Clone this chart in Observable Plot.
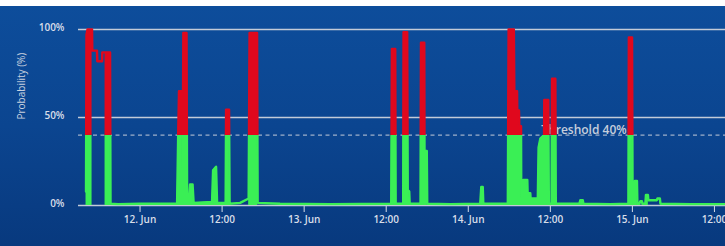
<!DOCTYPE html>
<html><head><meta charset="utf-8">
<script src="https://cdn.jsdelivr.net/npm/d3@7"></script>
<script src="https://cdn.jsdelivr.net/npm/@observablehq/plot@0.6"></script>
<style>
html,body{margin:0;padding:0;background:#fff;}
body{width:725px;height:246px;overflow:hidden;}
#top{height:6px;background:#fff;}
#chart{width:725px;height:240px;background:linear-gradient(180deg,#0d4d9b 0%,#0b4590 50%,#08397e 100%);}
#chart svg{display:block;}
</style></head><body><div id="top"></div><div id="chart"></div>
<script>
// ---- data (times are UTC, year is arbitrary) ----
const traceTimes = [
"06-11T16:06","06-11T16:10","06-11T16:19","06-11T16:59","06-11T17:01","06-11T17:42","06-11T17:45","06-11T18:27","06-11T18:29","06-11T18:53","06-11T19:37","06-11T19:41","06-11T20:47",
"06-12T00:00","06-12T03:40","06-12T05:25","06-12T05:34","06-12T05:42","06-12T06:09","06-12T06:13","06-12T06:20","06-12T06:48","06-12T06:53","06-12T07:10","06-12T07:19","06-12T07:41","06-12T07:50",
"06-12T10:32","06-12T10:41","06-12T11:07","06-12T11:16","06-12T12:31","06-12T12:35","06-12T13:01","06-12T13:06","06-12T14:38","06-12T15:53","06-12T16:01","06-12T17:07","06-12T17:12","06-12T20:29",
"06-13T03:48","06-13T12:44","06-13T12:50","06-13T13:19","06-13T13:23","06-13T14:29","06-13T14:32","06-13T15:04","06-13T15:09","06-13T15:22","06-13T15:26","06-13T17:01","06-13T17:05","06-13T17:34","06-13T17:36","06-13T17:56","06-13T18:00","06-13T21:22",
"06-14T01:45","06-14T01:54","06-14T02:07","06-14T02:12","06-14T05:47","06-14T05:54","06-14T06:40","06-14T06:44","06-14T07:08","06-14T07:10","06-14T07:25","06-14T07:28","06-14T07:43","06-14T07:45","06-14T07:59","06-14T08:03","06-14T08:38","06-14T08:41","06-14T09:04","06-14T09:07","06-14T10:10","06-14T10:17","06-14T10:32","06-14T11:05","06-14T11:07","06-14T11:42","06-14T11:47","06-14T12:11","06-14T12:15","06-14T12:44","06-14T12:48",
"06-14T16:15","06-14T16:23","06-14T16:45","06-14T16:50","06-14T20:47","06-14T23:25","06-14T23:29","06-14T23:57",
"06-15T00:02","06-15T00:18","06-15T00:22","06-15T00:40","06-15T00:44","06-15T01:01","06-15T01:10","06-15T01:23","06-15T01:28","06-15T01:54","06-15T01:59","06-15T02:16","06-15T02:20","06-15T03:35","06-15T03:40","06-15T04:01","06-15T04:06","06-15T08:29","06-15T13:37"
];
const traceValues = [
8,97,100,100,88,88,82,82,87,87,87,1,0.8,
1,1,1,37,65,65,12,98,98,3,3,12,12,1.5,
2,20,22,1.5,1.5,54.5,54.5,1,1.5,4,98,98,1.5,1,
0.8,1,89,89,1,1,98.5,98.5,9,8,1,1,92.5,92.5,31,31,1,0.8,
1,10.5,10.5,1,1,100,100,65,65,54,54,45,45,4,3,14.5,14.5,7,7,4,4,33,38,40,60,60,1,1,72,72,1,
1,3,3,1,0.8,1,95.5,95.5,
1,1,14,14,1,1,2.5,2.5,1,1,6,6,3,3,4,4,1,0.8,0.8
];
// periods where the dense readings fill the area under the trace
const bursts = [
["06-11T16:06","06-11T17:00"],["06-11T18:53","06-11T19:41"],
["06-12T05:25","06-12T06:53"],["06-12T07:10","06-12T07:50"],["06-12T10:32","06-12T11:16"],["06-12T12:31","06-12T13:06"],["06-12T15:53","06-12T17:12"],
["06-13T12:44","06-13T13:23"],["06-13T14:29","06-13T15:26"],["06-13T17:01","06-13T18:00"],
["06-14T01:45","06-14T02:12"],["06-14T05:47","06-14T11:47"],["06-14T12:11","06-14T12:48"],["06-14T16:15","06-14T16:50"],
["06-14T23:25","06-15T00:02"],["06-15T00:18","06-15T00:44"],["06-15T01:54","06-15T02:20"]
];
const threshold = 40;
const thresholdLabel = "Threshold 40%";
const thresholdLabelAt = "06-14T10:41";
const xDomain = ["06-11T15:00","06-15T13:37"];
const xTicks = ["06-12T00:00","06-12T12:00","06-13T00:00","06-13T12:00","06-14T00:00","06-14T12:00","06-15T00:00","06-15T12:00"];
const yTicks = [0, 50, 100];
const yLabel = "Probability (%)";

const RED = "#e0081d", GREEN = "#3aef55";
const parse = s => new Date("2023-" + s + "Z");
const trace = traceTimes.map((t, i) => ({t: parse(t), v: traceValues[i]}));
const ranges = bursts.map(([a, b]) => [parse(a), parse(b)]);
const fillData = trace.map(d => ({t: d.t, v: ranges.some(([a, b]) => d.t >= a && d.t <= b) ? d.v : NaN}));

const chart = Plot.plot({
  width: 725, height: 240,
  marginLeft: 78, marginRight: 0, marginTop: 23, marginBottom: 41,
  style: {background: "transparent", color: "#d8dee9", fontFamily: "'Open Sans', sans-serif", fontSize: "10px", fontWeight: 600},
  x: {type: "utc", domain: xDomain.map(parse), ticks: xTicks.map(parse), tickSize: 7, tickPadding: 3, label: null,
      tickFormat: d => d.getUTCHours() === 0 ? `${d.getUTCDate()}. Jun` : "12:00"},
  y: {domain: [0, 100], axis: null},
  marks: [
    Plot.ruleY([50, 100], {stroke: "#c3cbd8", strokeWidth: 1.6}),
    Plot.ruleY([threshold], {stroke: "#9fb0ca", strokeWidth: 1.2, strokeDasharray: "4,3.5"}),
    Plot.text([thresholdLabel], {x: () => parse(thresholdLabelAt), y: () => threshold, text: d => d, textAnchor: "start", lineAnchor: "bottom", dy: -1, fontSize: 12, fill: "#c6cedc"}),
    Plot.text(yTicks, {y: d => d, text: d => d + "%", frameAnchor: "left", dx: -14, dy: -2, textAnchor: "end"}),
    Plot.text([yLabel], {frameAnchor: "left", dx: -57, dy: 2, rotate: -90, text: d => d, fontWeight: 500, fill: "#c9d1df"}),
    Plot.ruleY([0], {stroke: "#c3cbd8", strokeWidth: 1.6}),
    Plot.areaY(fillData, {x: "t", y1: 0, y2: "v", fill: "url(#zone)"}),
    Plot.lineY(trace, {x: "t", y: "v", stroke: "url(#zone)", strokeWidth: 2.4})
  ]
});

// zone gradient: red above threshold, green below (positions from the y scale)
const ys = chart.scale("y");
const yTop = ys.apply(100), yBot = ys.apply(0), yTh = ys.apply(threshold);
const off = (yTh - yTop) / (yBot - yTop);
const grad = d3.select(chart).insert("defs", ":first-child").append("linearGradient")
  .attr("id", "zone").attr("gradientUnits", "userSpaceOnUse")
  .attr("x1", 0).attr("x2", 0).attr("y1", yTop).attr("y2", yBot);
grad.append("stop").attr("offset", 0).attr("stop-color", RED);
grad.append("stop").attr("offset", off).attr("stop-color", RED);
grad.append("stop").attr("offset", off).attr("stop-color", GREEN);
grad.append("stop").attr("offset", 1).attr("stop-color", GREEN);

document.getElementById("chart").appendChild(chart);
</script></body></html>
